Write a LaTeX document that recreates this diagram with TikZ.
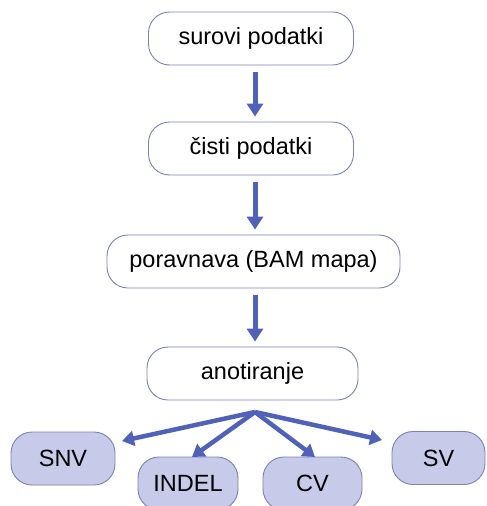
\documentclass[tikz,border=0pt]{standalone}
\usepackage{fontspec}
\setmainfont{Liberation Sans}
\usetikzlibrary{arrows.meta}
\definecolor{arrowblue}{HTML}{4F61B9}
\definecolor{boxline}{HTML}{7A82B3}
\definecolor{boxfill}{HTML}{C7CBE9}
\tikzset{
  stagebox/.style={draw=boxline, line width=0.9pt, fill=white, rounded corners=21pt,
    minimum height=53pt, inner sep=0pt, font=\fontsize{23.5}{26}\selectfont},
  leafbox/.style={stagebox, fill=boxfill},
  flowarrow/.style={draw=arrowblue, line width=5pt,
    -{Triangle[length=13pt,width=16pt]}},
  fanarrow/.style={draw=arrowblue, line width=4.5pt,
    -{Triangle[length=12pt,width=15pt]}},
}
\begin{document}
\begin{tikzpicture}[x=1pt,y=-1pt]
\useasboundingbox (0,0) rectangle (487,506);
\clip (0,0) rectangle (487,506);
\node[stagebox, minimum width=205pt] (b1) at (251,38.5) {surovi podatki};
\node[stagebox, minimum width=205pt] (b2) at (251,148.5) {čisti podatki};
\node[stagebox, minimum width=293pt] (b3) at (253.5,261.5) {poravnava (BAM mapa)};
\node[stagebox, minimum width=211pt] (b4) at (252.5,373.5) {anotiranje};
\node[leafbox, minimum width=104pt] (snv) at (63,458.5) {SNV};
\node[leafbox, minimum width=100pt] (indel) at (188,483.5) {INDEL};
\node[leafbox, minimum width=99pt] (cv) at (312.5,483.5) {CV};
\node[leafbox, minimum width=93pt] (sv) at (438.5,458) {SV};
\coordinate (ax) at (255,0);
\draw[flowarrow, shorten <=7pt, shorten >=5pt] (b1.south -| ax) -- (b2.north -| ax);
\draw[flowarrow, shorten <=7pt, shorten >=5pt] (b2.south -| ax) -- (b3.north -| ax);
\draw[flowarrow, shorten <=7pt, shorten >=5pt] (b3.south -| ax) -- (b4.north -| ax);
\coordinate (f) at (255,412);
\coordinate (tsnv) at (122,441);
\coordinate (tindel) at (192,457);
\coordinate (tcv) at (315,457);
\coordinate (tsv) at (382,440);
\draw[fanarrow] (f) -- (tsnv);
\draw[fanarrow] (f) -- (tindel);
\draw[fanarrow] (f) -- (tcv);
\draw[fanarrow] (f) -- (tsv);
\end{tikzpicture}
\end{document}
